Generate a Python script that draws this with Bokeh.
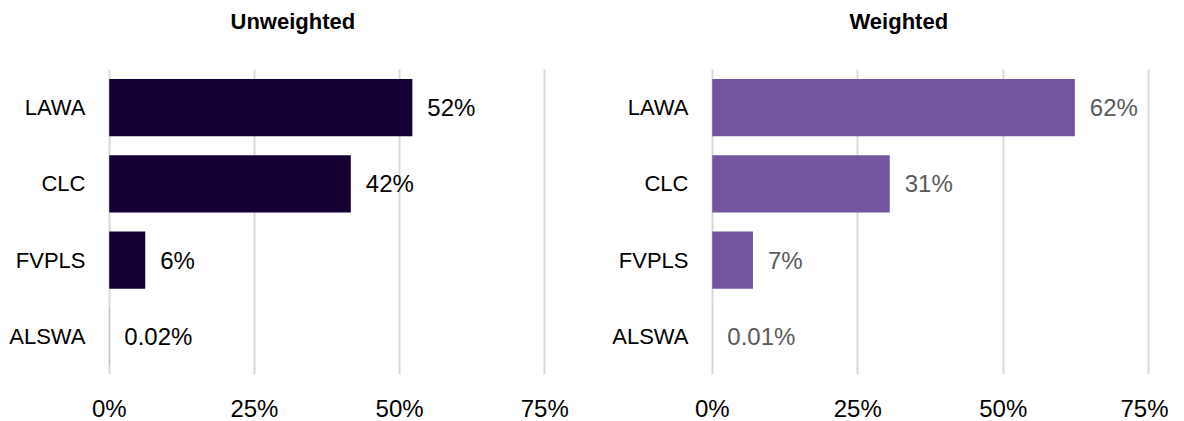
from bokeh.plotting import figure
from bokeh.layouts import row
from bokeh.models import Range1d, FixedTicker, Title
from bokeh.core.properties import value
from bokeh.embed import file_html
from bokeh.resources import INLINE

categories = ["LAWA", "CLC", "FVPLS", "ALSWA"]
unweighted = [52.2, 41.6, 6.2, 0.02]
unweighted_labels = ["52%", "42%", "6%", "0.02%"]
weighted = [62.3, 30.5, 7.0, 0.01]
weighted_labels = ["62%", "31%", "7%", "0.01%"]
tick_values = [0, 25, 50, 75]
tick_labels = ["0%", "25%", "50%", "75%"]

FONT = "Liberation Sans"
FRAME_H = 305


def make_panel(title, vals, labels, bar_color, label_color, border_left, frame_w, border_right,
               title_offset):
    p = figure(
        title=None,
        y_range=list(reversed(categories)),
        x_range=Range1d(-0.3, 75.3),
        frame_width=frame_w,
        frame_height=FRAME_H,
        min_border_left=border_left,
        min_border_right=border_right,
        min_border_top=69,
        min_border_bottom=38,
        output_backend="svg",
        toolbar_location=None,
    )
    # spacer between the frame and the title
    p.add_layout(Title(text=" ", text_font_size="1px", standoff=28), "above")
    p.add_layout(Title(text=title, align="left", offset=title_offset, standoff=6,
                       vertical_align="top",
                       text_font=FONT, text_font_size="22px", text_font_style="bold",
                       text_color="#000000"), "above")
    p.hbar(y=categories, right=vals, left=0, height=0.75, fill_color=bar_color, line_color=None)
    p.text(x=vals, y=categories, text=labels, x_offset=15, text_baseline="middle",
           text_align="left", text_font=value(FONT), text_font_size="24px", text_color=label_color)
    p.outline_line_color = None
    p.ygrid.grid_line_color = None
    p.xgrid.grid_line_color = "#d9d9d9"
    p.xgrid.grid_line_width = 2
    p.xaxis.ticker = FixedTicker(ticks=tick_values)
    p.xaxis.major_label_overrides = {v: l for v, l in zip(tick_values, tick_labels)}
    for ax in (p.xaxis[0], p.yaxis[0]):
        ax.axis_line_color = None
        ax.major_tick_line_color = None
        ax.minor_tick_line_color = None
        ax.major_label_text_font = FONT
        ax.major_label_text_color = "#000000"
    p.xaxis.major_label_text_font_size = "24px"
    p.xaxis.major_label_standoff = 14
    p.yaxis.major_label_text_font_size = "22px"
    p.yaxis.major_label_standoff = 16
    p.background_fill_color = "white"
    p.border_fill_color = "white"
    return p


left = make_panel("Unweighted", unweighted, unweighted_labels, "#150033", "#000000", 107, 439, 44, 123)
right = make_panel("Weighted", weighted, weighted_labels, "#73559f", "#595959", 120, 440, 18, 139)

layout = row(left, right)
open("out.html", "w").write(file_html(layout, INLINE))
